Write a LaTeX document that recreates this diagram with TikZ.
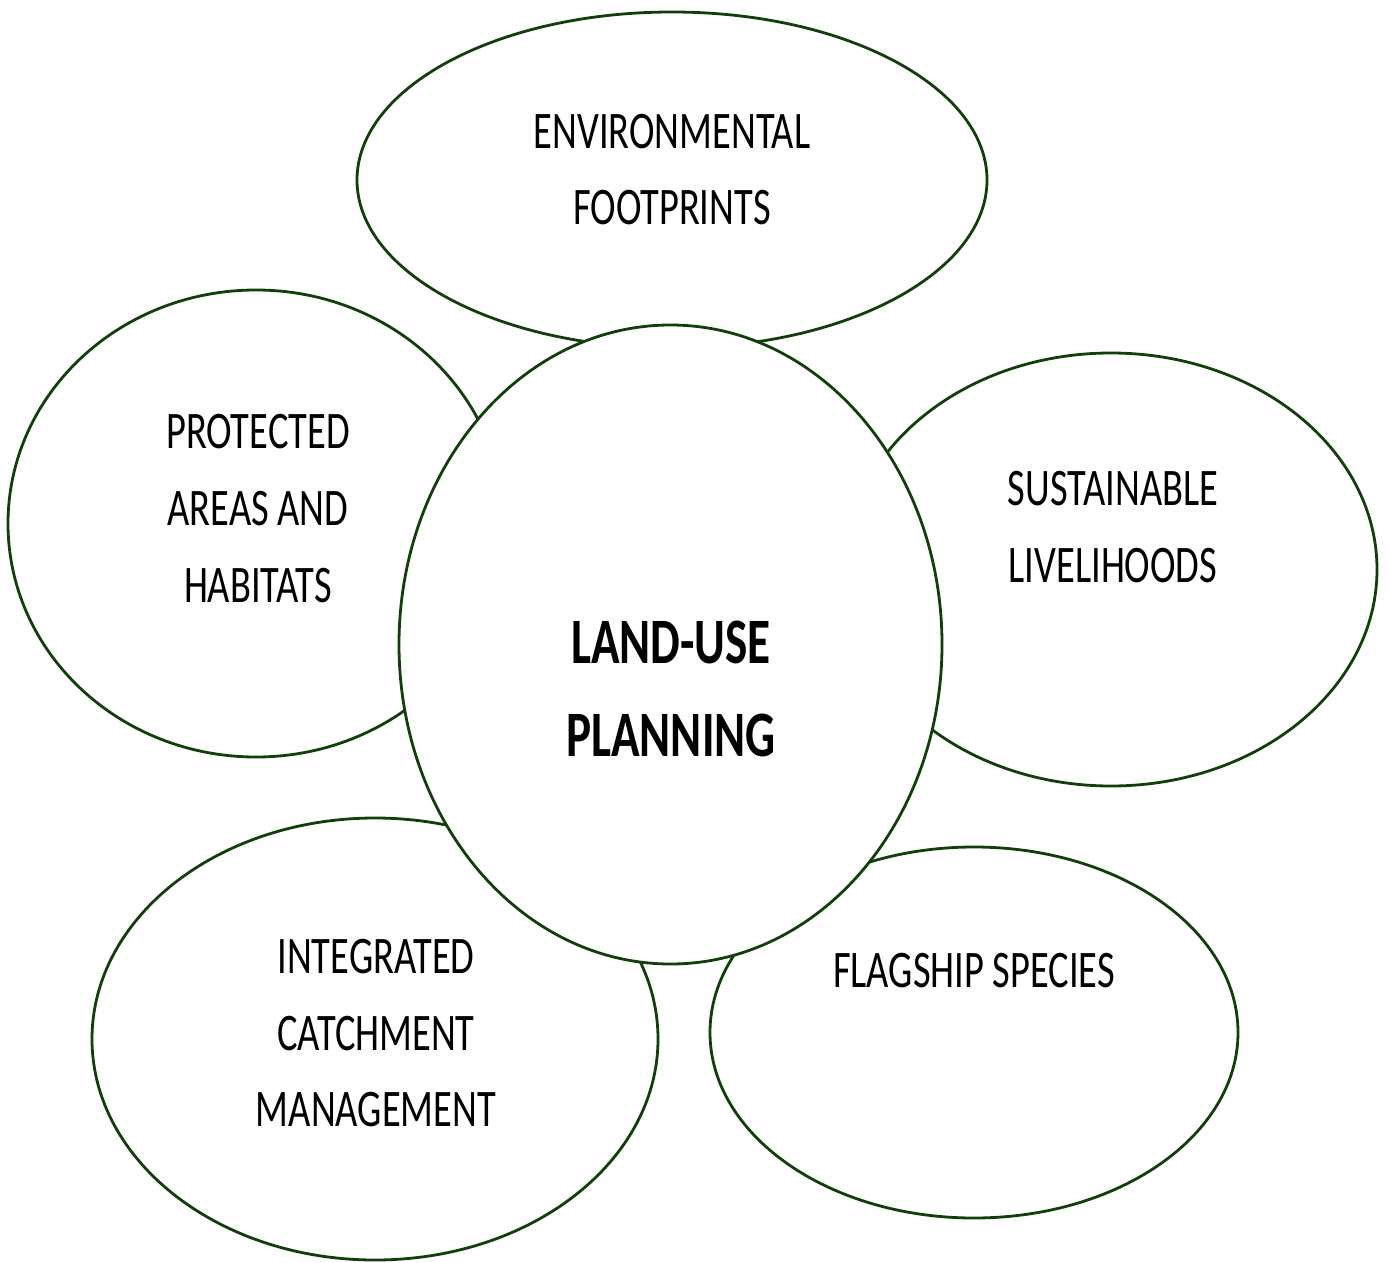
\documentclass[tikz,border=0pt]{standalone}
\usepackage{fontspec}
\usetikzlibrary{shapes.geometric}
\newfontfamily\lblfont[FakeStretch=0.728]{Carlito}
\definecolor{ringgreen}{RGB}{18,62,12}
\tikzset{
  ring/.style={ellipse, draw=ringgreen, line width=1.4pt, fill=white, inner sep=0pt},
  lbl/.style={anchor=base, inner sep=0pt, font=\lblfont\fontsize{26.4}{30}\selectfont, text=black},
  lblbold/.style={anchor=base, inner sep=0pt, font=\lblfont\bfseries\fontsize{32.4}{36}\selectfont, text=black}
}
\begin{document}
\begin{tikzpicture}[x=0.5pt,y=-0.5pt]
\useasboundingbox (0,0) rectangle (1390,1262);
% outer ellipses
\node[ring, minimum width=315pt, minimum height=168pt] (envring) at (672,180) {};
\node[ring, minimum width=248pt, minimum height=233.5pt] (protring) at (256,523.5) {};
\node[ring, minimum width=266pt, minimum height=216.5pt] (sustring) at (1111,569.5) {};
\node[ring, minimum width=283pt, minimum height=221pt] (intring) at (375,1039) {};
\node[ring, minimum width=264pt, minimum height=185.5pt] (flagring) at (974,1032.5) {};
% central ellipse
\node[ring, minimum width=271.5pt, minimum height=319.5pt] (landring) at (670.5,644.5) {};
% labels
\node[lbl] (envA) at (672,149) {ENVIRONMENTAL};
\node[lbl] (envB) at (672,225) {FOOTPRINTS};
\node[lbl] (protA) at (258,448) {PROTECTED};
\node[lbl] (protB) at (258,525) {AREAS AND};
\node[lbl] (protC) at (258,602) {HABITATS};
\node[lbl] (sustA) at (1113,505) {SUSTAINABLE};
\node[lbl] (sustB) at (1113,582) {LIVELIHOODS};
\node[lblbold] (landA) at (671,663) {LAND-USE};
\node[lblbold] (landB) at (671,756) {PLANNING};
\node[lbl] (intA) at (376,973) {INTEGRATED};
\node[lbl] (intB) at (376,1050) {CATCHMENT};
\node[lbl] (intC) at (376,1126) {MANAGEMENT};
\node[lbl] (flagA) at (974,987) {FLAGSHIP SPECIES};
\end{tikzpicture}
\end{document}
